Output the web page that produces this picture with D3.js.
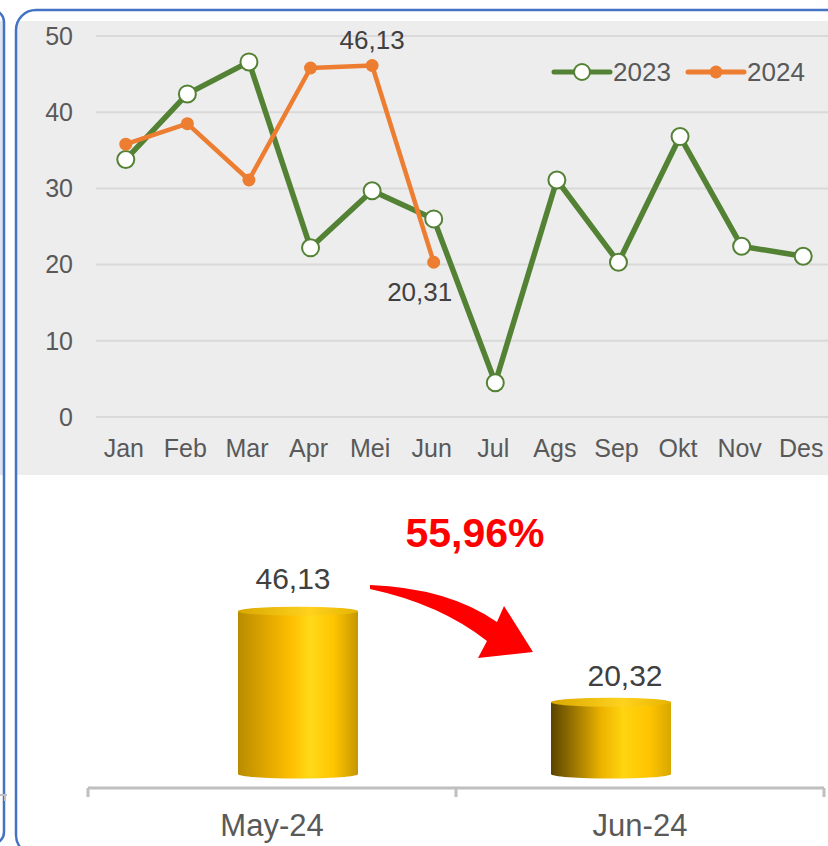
<!DOCTYPE html>
<html>
<head>
<meta charset="utf-8">
<script src="https://cdn.jsdelivr.net/npm/d3@7"></script>
<style>
  body { margin: 0; background: #fff; }
  svg { display: block; font-family: "Liberation Sans", Arial, sans-serif; }
</style>
</head>
<body>
<script>
// data
var months = ["Jan", "Feb", "Mar", "Apr", "Mei", "Jun", "Jul", "Ags", "Sep", "Okt", "Nov", "Des"];
var values2023 = [33.8, 42.4, 46.6, 22.2, 29.7, 26.0, 4.5, 31.1, 20.3, 36.8, 22.4, 21.1];
var values2024 = [35.8, 38.5, 31.1, 45.8, 46.13, 20.31];
var yTicks = [0, 10, 20, 30, 40, 50];

var barCats = ["May-24", "Jun-24"];
var barValues = [46.13, 20.32];
var changeLabel = "55,96%";

var W = 828, H = 846;
var green = "#548235", orange = "#ED7D31", txt = "#595959";

var svg = d3.select("body").append("svg")
    .attr("width", W)
    .attr("height", H);

var defs = svg.append("defs");

// panel shape clip
defs.append("clipPath").attr("id", "panelClip")
  .append("rect")
    .attr("x", 16).attr("y", 10)
    .attr("width", 850).attr("height", 845)
    .attr("rx", 20);

// previous panel edge on the far left
svg.append("rect")
    .attr("x", -40).attr("y", 21)
    .attr("width", 43).attr("height", 454)
    .attr("fill", "#E0E6F0");
svg.append("rect")
    .attr("x", -40).attr("y", 10)
    .attr("width", 44).attr("height", 834)
    .attr("rx", 12)
    .attr("fill", "none")
    .attr("stroke", "#4472C4")
    .attr("stroke-width", 2.5);
svg.append("path")
    .attr("d", "M-5,795 L7,795 M5,795 L5,801")
    .attr("stroke", "#BFBFBF")
    .attr("stroke-width", 2);

// grey plot background
svg.append("rect")
    .attr("clip-path", "url(#panelClip)")
    .attr("x", 16).attr("y", 21)
    .attr("width", 820).attr("height", 454)
    .attr("fill", "#EDEDED");

// ---------- line chart ----------
var x = d3.scalePoint().domain(months).range([95, 834]).padding(0.5);
var y = d3.scaleLinear().domain([0, 50]).range([417, 36]);

var grid = svg.append("g");
grid.selectAll("line").data(yTicks).enter().append("line")
    .attr("x1", 96).attr("x2", W)
    .attr("y1", function(d){ return y(d); })
    .attr("y2", function(d){ return y(d); })
    .attr("stroke", "#D9D9D9")
    .attr("stroke-width", 2);

grid.selectAll("text").data(yTicks).enter().append("text")
    .attr("x", 73)
    .attr("y", function(d){ return y(d); })
    .attr("dy", "0.35em")
    .attr("text-anchor", "end")
    .attr("font-size", 25)
    .attr("fill", txt)
    .text(function(d){ return d; });

svg.append("g").selectAll("text").data(months).enter().append("text")
    .attr("x", function(d){ return x(d) - 2; })
    .attr("y", 457)
    .attr("text-anchor", "middle")
    .attr("font-size", 25)
    .attr("fill", txt)
    .text(function(d){ return d; });

var line = d3.line()
    .x(function(d, i){ return x(months[i]); })
    .y(function(d){ return y(d); });

svg.append("path")
    .datum(values2023)
    .attr("d", line)
    .attr("fill", "none")
    .attr("stroke", green)
    .attr("stroke-width", 5.5)
    .attr("stroke-linejoin", "round");

svg.append("path")
    .datum(values2024)
    .attr("d", line)
    .attr("fill", "none")
    .attr("stroke", orange)
    .attr("stroke-width", 4.5)
    .attr("stroke-linejoin", "round");

svg.append("g").selectAll("circle").data(values2023).enter().append("circle")
    .attr("cx", function(d, i){ return x(months[i]); })
    .attr("cy", function(d){ return y(d); })
    .attr("r", 8.5)
    .attr("fill", "#fff")
    .attr("stroke", green)
    .attr("stroke-width", 2);

svg.append("g").selectAll("circle").data(values2024).enter().append("circle")
    .attr("cx", function(d, i){ return x(months[i]); })
    .attr("cy", function(d){ return y(d); })
    .attr("r", 6.5)
    .attr("fill", orange);

// data labels on 2024 Mei and Jun
var fmt = function(v){ return d3.format(".2f")(v).replace(".", ","); };
svg.append("text")
    .attr("x", x("Mei"))
    .attr("y", y(values2024[4]) - 16)
    .attr("text-anchor", "middle")
    .attr("font-size", 26)
    .attr("fill", "#404040")
    .text(fmt(values2024[4]));
svg.append("text")
    .attr("x", x("Jun") - 14)
    .attr("y", y(values2024[5]) + 39)
    .attr("text-anchor", "middle")
    .attr("font-size", 26)
    .attr("fill", "#404040")
    .text(fmt(values2024[5]));

// legend
var legend = svg.append("g").attr("transform", "translate(554,72)");
var legItems = [
  {name: "2023", color: green, open: true},
  {name: "2024", color: orange, open: false}
];
var li = legend.selectAll("g").data(legItems).enter().append("g")
    .attr("transform", function(d, i){ return "translate(" + (i * 134) + ",0)"; });
li.append("line")
    .attr("x1", 0).attr("x2", 56)
    .attr("stroke", function(d){ return d.color; })
    .attr("stroke-width", 5)
    .attr("stroke-linecap", "round");
li.append("circle")
    .attr("cx", 28)
    .attr("r", function(d){ return d.open ? 8 : 6.5; })
    .attr("fill", function(d){ return d.open ? "#fff" : d.color; })
    .attr("stroke", function(d){ return d.open ? d.color : "none"; })
    .attr("stroke-width", 2);
li.append("text")
    .attr("x", 59)
    .attr("y", 9)
    .attr("font-size", 26)
    .attr("fill", txt)
    .text(function(d){ return d.name; });

// ---------- cylinder bar chart ----------
var bx = d3.scaleBand().domain(barCats).range([88, 824]);
var cylX = d3.scalePoint().domain(barCats).range([298, 611]);
var labX = d3.scalePoint().domain(barCats).range([293, 625]);
var by = d3.scaleLinear().domain([0, 50]).range([774, 597.5]);
var cylW = 120, ry = 4.5;

var gradStops = [
  [ {o: 0, c: "#B88C00"}, {o: 0.25, c: "#E2A800"}, {o: 0.45, c: "#FFC000"}, {o: 0.6, c: "#FFDA1A"}, {o: 0.8, c: "#FFC400"}, {o: 1, c: "#C49600"} ],
  [ {o: 0, c: "#5A4300"}, {o: 0.2, c: "#9E7800"}, {o: 0.42, c: "#EDB300"}, {o: 0.6, c: "#FFD410"}, {o: 0.82, c: "#FFC400"}, {o: 1, c: "#D8A800"} ]
];
gradStops.forEach(function(stops, i){
  var g = defs.append("linearGradient").attr("id", "cyl" + i)
      .attr("x1", "0%").attr("x2", "100%").attr("y1", "0%").attr("y2", "0%");
  g.selectAll("stop").data(stops).enter().append("stop")
      .attr("offset", function(d){ return d.o; })
      .attr("stop-color", function(d){ return d.c; });
});
var topGrad = defs.append("linearGradient").attr("id", "cylTop")
    .attr("x1", "0%").attr("x2", "100%");
topGrad.append("stop").attr("offset", 0).attr("stop-color", "#D9A800");
topGrad.append("stop").attr("offset", 0.6).attr("stop-color", "#FFD21E");
topGrad.append("stop").attr("offset", 1).attr("stop-color", "#E6B400");

var cyl = svg.append("g").selectAll("g").data(barValues).enter().append("g");
cyl.append("path")
    .attr("d", function(d, i){
      var cx = cylX(barCats[i]), x0 = cx - cylW / 2, x1 = cx + cylW / 2;
      var t = by(d), b = by(0);
      return "M" + x0 + "," + t + " L" + x0 + "," + b +
             " A" + (cylW / 2) + "," + ry + " 0 0,0 " + x1 + "," + b +
             " L" + x1 + "," + t + " Z";
    })
    .attr("fill", function(d, i){ return "url(#cyl" + i + ")"; });
cyl.append("ellipse")
    .attr("cx", function(d, i){ return cylX(barCats[i]); })
    .attr("cy", function(d){ return by(d); })
    .attr("rx", cylW / 2)
    .attr("ry", ry)
    .attr("fill", "url(#cylTop)");

cyl.append("text")
    .attr("x", function(d, i){ return labX(barCats[i]); })
    .attr("y", function(d, i){ return by(d) - (i === 0 ? 22 : 16); })
    .attr("text-anchor", "middle")
    .attr("font-size", 30)
    .attr("fill", "#404040")
    .text(function(d){ return fmt(d); });

// bottom category axis
var axisY = 788;
svg.append("line")
    .attr("x1", bx.range()[0]).attr("x2", bx.range()[1])
    .attr("y1", axisY).attr("y2", axisY)
    .attr("stroke", "#BFBFBF").attr("stroke-width", 3);
svg.append("g").selectAll("line").data([0, 1, 2]).enter().append("line")
    .attr("x1", function(d){ return bx.range()[0] + d * bx.bandwidth(); })
    .attr("x2", function(d){ return bx.range()[0] + d * bx.bandwidth(); })
    .attr("y1", axisY).attr("y2", axisY + 9)
    .attr("stroke", "#BFBFBF").attr("stroke-width", 3);
svg.append("g").selectAll("text").data(barCats).enter().append("text")
    .attr("x", function(d){ return bx(d) + bx.bandwidth() / 2; })
    .attr("y", 836)
    .attr("text-anchor", "middle")
    .attr("font-size", 31)
    .attr("fill", txt)
    .text(function(d){ return d; });

// red curved arrow and percentage
svg.append("path")
    .attr("d", "M370,585 Q448,588 497,622 L504,606 L533,652 L478,658 L487,641 Q440,604 370,589 Z")
    .attr("fill", "#FF0000");
svg.append("text")
    .attr("x", 475)
    .attr("y", 547)
    .attr("text-anchor", "middle")
    .attr("font-size", 41)
    .attr("font-weight", "bold")
    .attr("fill", "#FF0000")
    .text(changeLabel);

// panel border on top
svg.append("rect")
    .attr("x", 16).attr("y", 10)
    .attr("width", 850).attr("height", 845)
    .attr("rx", 20)
    .attr("fill", "none")
    .attr("stroke", "#4472C4")
    .attr("stroke-width", 2.5);
</script>
</body>
</html>
